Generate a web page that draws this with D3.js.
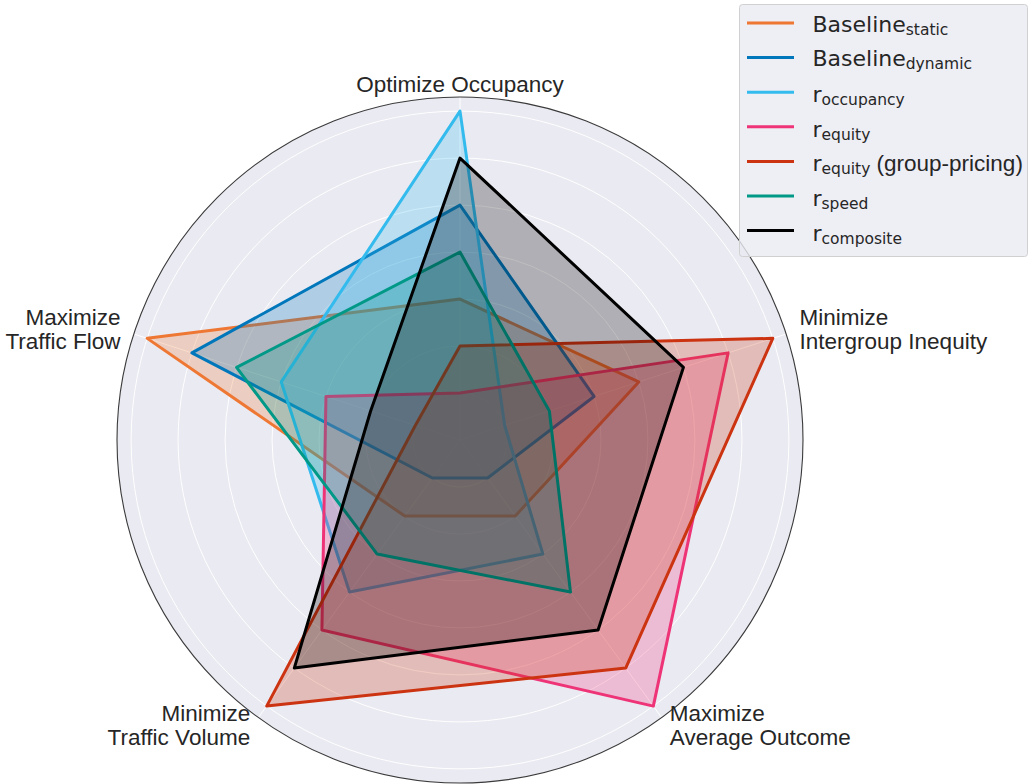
<!DOCTYPE html>
<html>
<head>
<meta charset="utf-8">
<script src="https://cdn.jsdelivr.net/npm/d3@7"></script>
<style>
  html, body { margin: 0; padding: 0; background: #ffffff; }
  svg { display: block; }
</style>
</head>
<body>
<svg id="chart" width="1029" height="784"></svg>
<script>
// Objectives, clockwise from the top
const axisLabels = [
  ["Optimize Occupancy"],
  ["Minimize", "Intergroup Inequity"],
  ["Maximize", "Average Outcome"],
  ["Minimize", "Traffic Volume"],
  ["Maximize", "Traffic Flow"]
];

// Rank of each reward design on every objective (7 = best)
const baselineStatic  = [3, 4, 2, 2, 7];
const baselineDynamic = [5, 3, 1, 1, 6];
const rOccupancy      = [7, 1, 3, 4, 4];
const rEquity         = [1, 6, 7, 5, 3];
const rEquityGroup    = [2, 7, 6, 7, 1];
const rSpeed          = [4, 2, 4, 3, 5];
const rComposite      = [6, 5, 5, 6, 2];

const ringTicks = [1, 2, 3, 4, 5, 6, 7];
const radialMax = 7.3;

const seriesNames = [
  { main: "Baseline", sub: "static" },
  { main: "Baseline", sub: "dynamic" },
  { main: "r", sub: "occupancy" },
  { main: "r", sub: "equity" },
  { main: "r", sub: "equity", suffix: " (group-pricing)" },
  { main: "r", sub: "speed" },
  { main: "r", sub: "composite" }
];
const seriesValues = [baselineStatic, baselineDynamic, rOccupancy, rEquity, rEquityGroup, rSpeed, rComposite];
const seriesColors = ["#EE7733", "#0077BB", "#33BBEE", "#EE3377", "#CC3311", "#009988", "#000000"];

const svg = d3.select("#chart");
const cx = 460, cy = 440, outerR = 343;
const n = axisLabels.length;
const angle = i => i * 2 * Math.PI / n;
const r = d3.scaleLinear().domain([0, radialMax]).range([0, outerR]);

const g = svg.append("g").attr("transform", `translate(${cx},${cy})`);

// polar background
g.append("circle").attr("r", outerR).attr("fill", "#EAEAF2");

// concentric grid rings
g.selectAll("circle.ring").data(ringTicks).join("circle")
  .attr("class", "ring")
  .attr("r", d => r(d))
  .attr("fill", "none")
  .attr("stroke", "#ffffff")
  .attr("stroke-width", 1);

// spokes
g.selectAll("line.spoke").data(d3.range(n)).join("line")
  .attr("class", "spoke")
  .attr("x1", 0).attr("y1", 0)
  .attr("x2", i => outerR * Math.sin(angle(i)))
  .attr("y2", i => -outerR * Math.cos(angle(i)))
  .attr("stroke", "#ffffff")
  .attr("stroke-width", 1);

// series polygons
const radial = d3.lineRadial()
  .angle((d, i) => angle(i))
  .radius(d => r(d))
  .curve(d3.curveLinearClosed);

seriesValues.forEach((vals, k) => {
  g.append("path")
    .attr("d", radial(vals))
    .attr("fill", seriesColors[k])
    .attr("fill-opacity", 0.25)
    .attr("stroke", "none");
  g.append("path")
    .attr("d", radial(vals))
    .attr("fill", "none")
    .attr("stroke", seriesColors[k])
    .attr("stroke-width", 3)
    .attr("stroke-linejoin", "round");
});

// outer frame
g.append("circle").attr("r", outerR)
  .attr("fill", "none")
  .attr("stroke", "#3a3a3a")
  .attr("stroke-width", 1.1);

// objective labels
const labelR = 357;
const labelFont = "'Liberation Sans', Arial, sans-serif";
axisLabels.forEach((lines, i) => {
  const a = angle(i);
  const sx = Math.sin(a), sy = -Math.cos(a);
  const ax = labelR * sx, ay = labelR * sy;
  let anchor = "middle";
  if (sx > 0.2) anchor = "start";
  else if (sx < -0.2) anchor = "end";
  const lineGap = 24.3;
  let first;
  if (lines.length === 1) first = ay + 8.7;
  else first = ay - 4.6 - (sy > 0.2 ? 3.2 : 0);
  const t = g.append("text")
    .attr("text-anchor", anchor)
    .attr("font-family", labelFont)
    .attr("font-size", 22.5)
    .attr("fill", "#262626");
  lines.forEach((ln, j) => {
    t.append("tspan")
      .attr("x", ax)
      .attr("y", first + j * lineGap)
      .text(ln);
  });
});

// legend
const lg = svg.append("g");
lg.append("rect")
  .attr("x", 739.5).attr("y", 4.5)
  .attr("width", 288).attr("height", 252)
  .attr("rx", 3)
  .attr("fill", "#EAEAF2").attr("fill-opacity", 0.8)
  .attr("stroke", "#d0d0d0").attr("stroke-width", 1);

const legendY0 = 23, legendStep = 34.6;
seriesNames.forEach((s, k) => {
  const y = legendY0 + k * legendStep;
  lg.append("line")
    .attr("x1", 747).attr("x2", 794)
    .attr("y1", y).attr("y2", y)
    .attr("stroke", seriesColors[k])
    .attr("stroke-width", 3);
  const t = lg.append("text")
    .attr("x", 812.5)
    .attr("y", y + (s.main === "r" ? 10 : 8.5))
    .attr("font-family", "'DejaVu Sans', sans-serif")
    .attr("font-size", 22)
    .attr("fill", "#262626");
  t.append("tspan").text(s.main);
  t.append("tspan").attr("font-size", 15.5).attr("dy", 3).text(s.sub);
  if (s.suffix) {
    t.append("tspan")
      .attr("dy", -3)
      .attr("font-family", labelFont)
      .attr("font-size", 22.5)
      .attr("xml:space", "preserve")
      .text(s.suffix);
  }
});
</script>
</body>
</html>
